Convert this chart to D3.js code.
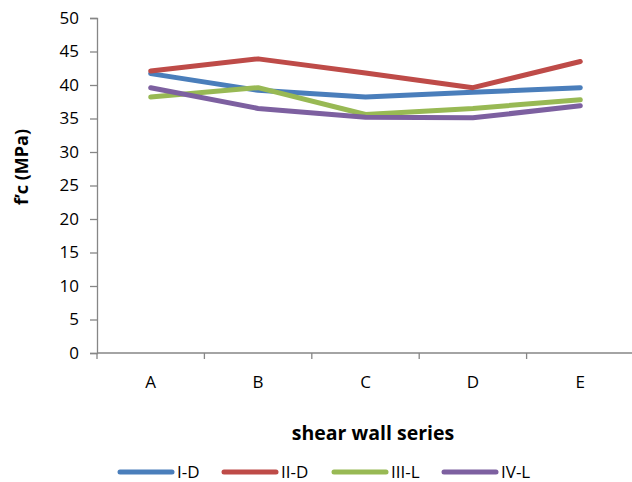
<!DOCTYPE html>
<html>
<head>
<meta charset="utf-8">
<script src="https://cdn.jsdelivr.net/npm/d3@7"></script>
<style>
  body { margin: 0; background: #fff; }
  svg text { font-family: "Open Sans", "Liberation Sans", sans-serif; fill: #000; }
</style>
</head>
<body>
<div id="chart"></div>
<script>
// categories and series
var categories = ["A", "B", "C", "D", "E"];
var seriesNames = ["I-D", "II-D", "III-L", "IV-L"];
var seriesColors = ["#4a7ebb", "#be4b48", "#98b954", "#7d60a0"];
var valuesID = [41.7, 39.2, 38.2, 38.9, 39.6];
var valuesIID = [42.1, 43.9, 41.8, 39.6, 43.5];
var valuesIIIL = [38.2, 39.6, 35.6, 36.5, 37.8];
var valuesIVL = [39.6, 36.5, 35.2, 35.1, 36.9];
var yTicks = [0, 5, 10, 15, 20, 25, 30, 35, 40, 45, 50];

var allValues = [valuesID, valuesIID, valuesIIIL, valuesIVL];

var width = 632, height = 482;
var margin = { top: 18, right: -2, bottom: 129, left: 97 };

var svg = d3.select("#chart").append("svg")
  .attr("width", width)
  .attr("height", height);

var x = d3.scaleBand()
  .domain(categories)
  .range([margin.left, width - margin.right]);

var y = d3.scaleLinear()
  .domain([0, 50])
  .range([height - margin.bottom, margin.top]);

// y axis
var yAxis = svg.append("g")
  .attr("transform", "translate(" + margin.left + ",0)")
  .call(d3.axisLeft(y).tickValues(yTicks).tickSize(7).tickPadding(11));
yAxis.select(".domain").attr("stroke", "#868686").attr("stroke-width", 1.3);
yAxis.selectAll(".tick line").attr("stroke", "#868686").attr("stroke-width", 1.3);
yAxis.selectAll("text").style("font-size", "17px").style("font-family", "Open Sans");

// x axis, ticks between categories
var xAxis = svg.append("g")
  .attr("transform", "translate(0," + y(0) + ")");
xAxis.append("line")
  .attr("x1", margin.left).attr("x2", width - margin.right)
  .attr("stroke", "#868686").attr("stroke-width", 1.3);
xAxis.selectAll("line.tk")
  .data(categories.concat(["end"]))
  .enter().append("line")
  .attr("class", "tk")
  .attr("x1", function(d, i) { return margin.left + i * x.bandwidth(); })
  .attr("x2", function(d, i) { return margin.left + i * x.bandwidth(); })
  .attr("y1", 0).attr("y2", 6)
  .attr("stroke", "#868686").attr("stroke-width", 1.3);
xAxis.selectAll("text")
  .data(categories)
  .enter().append("text")
  .attr("x", function(d) { return x(d) + x.bandwidth() / 2; })
  .attr("y", 35)
  .attr("text-anchor", "middle")
  .style("font-size", "17px")
  .text(function(d) { return d; });

// lines
var line = d3.line()
  .x(function(d, i) { return x(categories[i]) + x.bandwidth() / 2; })
  .y(function(d) { return y(d); });

svg.selectAll("path.series")
  .data(allValues)
  .enter().append("path")
  .attr("class", "series")
  .attr("d", line)
  .attr("fill", "none")
  .attr("stroke", function(d, i) { return seriesColors[i]; })
  .attr("stroke-width", 5)
  .attr("stroke-linecap", "round")
  .attr("stroke-linejoin", "round");

// axis titles
svg.append("text")
  .attr("transform", "translate(28,167) rotate(-90)")
  .attr("text-anchor", "middle")
  .style("font-size", "18px")
  .style("font-weight", "bold")
  .text("f\u2019c (MPa)");

svg.append("text")
  .attr("x", 373)
  .attr("y", 440)
  .attr("text-anchor", "middle")
  .style("font-size", "19.5px")
  .style("font-weight", "bold")
  .text("shear wall series");

// legend
var legendX = [118, 222, 332, 442];
var legend = svg.selectAll("g.legend")
  .data(seriesNames)
  .enter().append("g")
  .attr("class", "legend")
  .attr("transform", function(d, i) { return "translate(" + legendX[i] + ",472)"; });
legend.append("line")
  .attr("x1", 2).attr("x2", 54)
  .attr("stroke", function(d, i) { return seriesColors[i]; })
  .attr("stroke-width", 5)
  .attr("stroke-linecap", "round");
legend.append("text")
  .attr("x", 59)
  .attr("y", 5.5)
  .style("font-size", "17px")
  .text(function(d) { return d; });
</script>
</body>
</html>
